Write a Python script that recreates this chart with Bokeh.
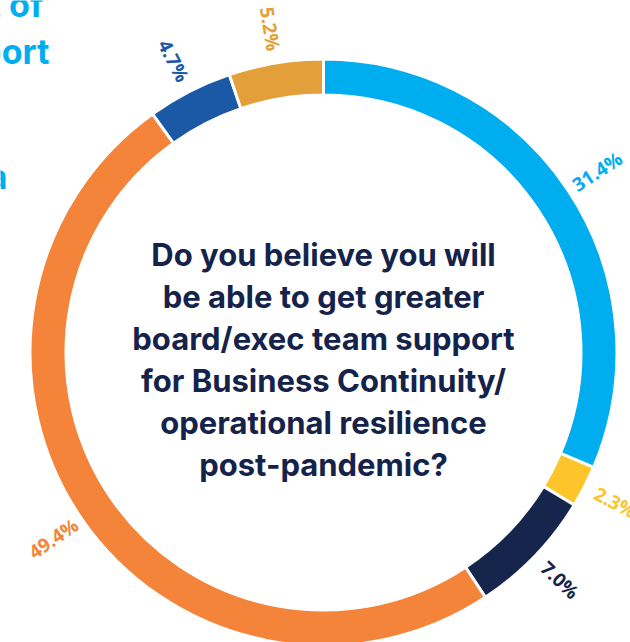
import numpy as np
from bokeh.plotting import figure
from bokeh.models import Range1d, ColumnDataSource
from bokeh.core.properties import value
from bokeh.embed import file_html
from bokeh.resources import INLINE

# ---- data ----
categories = ["Yes", "Partly", "Unsure", "No", "Other A", "Other B"]
shares = [31.4, 2.3, 7.0, 49.4, 4.7, 5.2]
colors = ["#00aeef", "#fdc52a", "#15254c", "#f5843b", "#1b59a6", "#e39f3a"]
labels = ["31.4%", "2.3%", "7.0%", "49.4%", "4.7%", "5.2%"]
question = [
    "Do you believe you will",
    "be able to get greater",
    "board/exec team support",
    "for Business Continuity/",
    "operational resilience",
    "post-pandemic?",
]
side_text = ["t of", "port", "a"]

# ---- layout constants (screen px) ----
W, H = 630, 642
CX, CY = 323, H - 352
R_OUT, R_IN = 293.5, 257.5
R_LAB = 328

frac = np.array(shares) / 100.0
cum = np.concatenate([[0], np.cumsum(frac)])
start = np.pi / 2 - 2 * np.pi * cum[1:]
end = np.pi / 2 - 2 * np.pi * cum[:-1]
mid = (start + end) / 2

rot = []
for m in mid:
    d = np.degrees(m) % 360
    rot.append(m - np.pi if 90 < d < 270 else m)

src = ColumnDataSource(dict(
    cat=categories, start=start, end=end, color=colors,
    lx=CX + R_LAB * np.cos(mid), ly=CY + R_LAB * np.sin(mid),
    lab=labels, rot=rot,
))

p = figure(width=W, height=H, output_backend="svg", toolbar_location=None,
           x_range=Range1d(0, W), y_range=Range1d(0, H),
           min_border=0, outline_line_color=None)
p.axis.visible = False
p.grid.visible = False
p.background_fill_color = "white"

p.annular_wedge(x=CX, y=CY, inner_radius=R_IN, outer_radius=R_OUT,
                start_angle="start", end_angle="end", fill_color="color",
                line_color="white", line_width=3, source=src)

p.text(x="lx", y="ly", text="lab", angle="rot", text_color="color",
       text_align="center", text_baseline="middle",
       text_font=value("Open Sans"), text_font_style="bold",
       text_font_size="19px", source=src)

qsrc = ColumnDataSource(dict(
    t=question, y=[H - (254 + 42 * i) for i in range(len(question))],
    x=[CX] * len(question)))
p.text(x="x", y="y", text="t", source=qsrc, text_align="center",
       text_baseline="alphabetic", text_color="#15234b",
       text_font=value("Inter"), text_font_style="bold",
       text_font_size="31px")

ssrc = ColumnDataSource(dict(t=side_text, x=[43, 49, 7],
                             y=[H - 4, H - 51, H - 176]))
p.text(x="x", y="y", text="t", source=ssrc, text_align="right",
       text_baseline="alphabetic", text_color="#00aeef",
       text_font=value("Inter"), text_font_style="bold",
       text_font_size="34px")

open("out.html", "w").write(file_html(p, INLINE))
